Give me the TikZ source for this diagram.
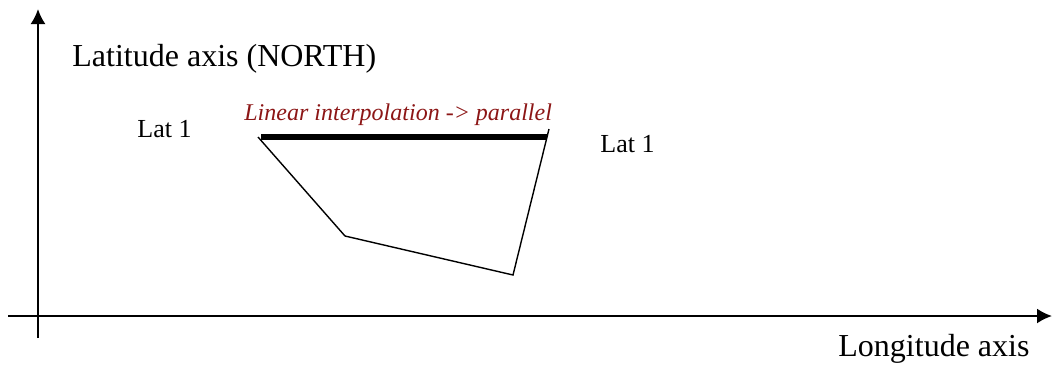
\documentclass[tikz,border=0pt]{standalone}
\usepackage{fontspec}
\setmainfont{Liberation Serif}
\usetikzlibrary{arrows.meta,positioning,calc}

\definecolor{interpred}{RGB}{140,22,22}
\tikzset{
    axis/.style={line width=1pt,-{Latex[length=7.5pt,width=7.5pt]}},
    edge/.style={line width=0.7pt},
    lbl/.style={inner sep=0pt,anchor=base west}
}

\begin{document}
\begin{tikzpicture}[x=0.5pt,y=-0.5pt]
    \useasboundingbox (0,0) rectangle (1053,365);
    % axes
    \coordinate (ybot) at (38,338);
    \coordinate (ytop) at (38,9);
    \coordinate (xleft) at (8,316);
    \coordinate (xright) at (1052,316);
    \draw[axis] (ybot) -- (ytop);
    \draw[axis] (xleft) -- (xright);
    \node[lbl,font=\fontsize{16}{19}\selectfont] (lat) at (72,66) {Latitude axis (NORTH)};
    \node[lbl,font=\fontsize{16}{19}\selectfont] (lon) at (838,356) {Longitude axis};
    % polygon
    \coordinate (p1) at (258,137);
    \coordinate (p2) at (345,236);
    \coordinate (p3) at (513,275);
    \coordinate (p4) at (549,129);
    \coordinate (t1) at (261,137);
    \coordinate (t2) at (547,137);
    \draw[edge] (p1) -- (p2) -- (p3) -- (p4);
    \draw[line width=3pt] (t1) -- (t2);
    \node[lbl,font=\fontsize{13}{15}\selectfont] (lat1a) at (137,137) {Lat 1};
    \node[lbl,font=\fontsize{13}{15}\selectfont] (lat1b) at (600,152) {Lat 1};
    \node[lbl,font=\fontsize{12}{14}\selectfont\itshape,text=interpred] (interp) at (244,120) {Linear interpolation -> parallel};
\end{tikzpicture}
\end{document}
